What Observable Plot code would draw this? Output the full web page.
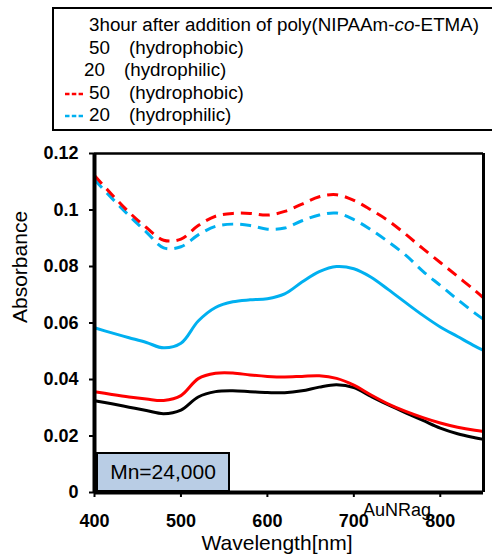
<!DOCTYPE html>
<html><head><meta charset="utf-8">
<script src="https://cdn.jsdelivr.net/npm/d3@7"></script>
<script src="https://cdn.jsdelivr.net/npm/@observablehq/plot@0.6"></script>
<style>
body{margin:0;background:#fff;}
#wrap{position:relative;width:492px;height:556px;overflow:hidden;font-family:"Liberation Sans",Arial,sans-serif;color:#000;}
#wrap > svg{position:absolute;left:0;top:0;}
#legend{position:absolute;left:52px;top:7px;width:470px;height:120px;border:2px solid #000;box-sizing:content-box;}
.lg{position:absolute;font-size:18.8px;line-height:22px;white-space:pre;}
.sw{position:absolute;}
#mn{position:absolute;left:96px;top:452px;width:130px;height:36px;background:#b9cde5;border:2px solid #000;display:flex;align-items:center;justify-content:center;font-size:21px;}
#aunr{position:absolute;left:363px;top:501px;font-size:18px;line-height:18px;}
</style>
</head><body>
<div id="wrap"></div>
<script>
// ---- data ----
const wavelength = [400,420,440,460,480,500,520,540,560,580,600,620,640,660,680,700,720,740,760,780,800,820,840,850];
const absBlack   = [.0325,.0314,.0302,.0290,.0279,.0292,.0338,.0357,.0360,.0357,.0354,.0353,.0360,.0373,.0381,.0371,.0340,.0310,.0282,.0255,.0228,.0208,.0194,.0188];
const absRed     = [.0357,.0347,.0338,.0331,.0326,.0343,.0403,.0422,.0423,.0416,.0411,.0409,.0411,.0413,.0404,.0380,.0345,.0313,.0287,.0265,.0246,.0231,.0220,.0216];
const absBlue    = [.0583,.0565,.0548,.0531,.0512,.0528,.0607,.0655,.0675,.0682,.0686,.0703,.0745,.0782,.0800,.0792,.0762,.0718,.0672,.0627,.0586,.0552,.0518,.0503];
const absRedDash = [.1122,.1055,.0992,.0938,.0893,.0897,.0945,.0978,.0988,.0988,.0982,.0995,.1021,.1047,.1054,.1034,.1000,.0962,.0914,.0863,.0814,.0765,.0715,.0689];
const absBlueDash= [.1107,.1042,.0980,.0922,.0866,.0870,.0912,.0942,.0950,.0945,.0932,.0936,.0962,.0982,.0989,.0966,.0930,.0887,.0840,.0783,.0733,.0683,.0635,.0613];
const xTicks = [400,500,600,700,800];
const yTicks = [0,0.02,0.04,0.06,0.08,0.1,0.12];
const yTickLabels = ["0","0.02","0.04","0.06","0.08","0.1","0.12"];
const legendTitle = ["3hour after addition of poly(NIPAAm-", "co", "-ETMA)"];
const legendNums = ["50","20","50","20"];
const legendTypes = ["(hydrophobic)","(hydrophilic)","(hydrophobic)","(hydrophilic)"];
const boxLabel = "Mn=24,000";
const noteLabel = "AuNRag";
const xTitle = "Wavelength[nm]";
const yTitle = "Absorbance";

const rows = v => wavelength.map((w,i)=>({w, a:v[i]}));
const RED = "#ff0000", BLUE = "#00b0f0";
const lineOpts = (stroke, dash) => ({x:"w", y:"a", stroke, strokeWidth:3, curve:"catmull-rom", strokeDasharray: dash, strokeLinecap:"butt"});

const chart = Plot.plot({
  width:492, height:556,
  marginTop:153, marginBottom:64, marginLeft:94, marginRight:9,
  style:{fontFamily:'"Liberation Sans", Arial, sans-serif', color:"#000", background:"transparent", overflow:"visible"},
  x:{domain:[400,850]},
  y:{domain:[0,0.12]},
  marks:[
    Plot.line(rows(absBlueDash), lineOpts(BLUE, "11,7")),
    Plot.line(rows(absRedDash), lineOpts(RED, "11,7")),
    Plot.line(rows(absBlue), lineOpts(BLUE)),
    Plot.line(rows(absBlack), lineOpts("#000")),
    Plot.line(rows(absRed), lineOpts(RED)),
    Plot.ruleY([0.12], {stroke:"#000", strokeWidth:2.5}),
    Plot.ruleX([850], {stroke:"#000", strokeWidth:3}),
    Plot.ruleX([400], {stroke:"#000", strokeWidth:4}),
    Plot.ruleY([0], {stroke:"#000", strokeWidth:4}),
    Plot.axisY({ticks:yTicks, tickFormat:d=>yTickLabels[yTicks.indexOf(d)], tickSize:5, tickPadding:11, fontSize:18, strokeWidth:2, label:null}),
    Plot.axisX({ticks:xTicks, tickFormat:d=>String(d), tickSize:5, tickPadding:17, fontSize:18, strokeWidth:2, label:null}),
    Plot.text([yTitle], {frameAnchor:"left", rotate:-90, dx:-74, fontSize:21}),
    Plot.text([xTitle], {frameAnchor:"bottom", dy:57, dx:-12, fontSize:21})
  ]
});
const wrap = document.getElementById("wrap");
wrap.appendChild(chart);
// make the tick labels bold, as in the reference
chart.querySelectorAll('g[aria-label*="tick label"] text, g[aria-label*="tick label"]').forEach(el=>{
  el.setAttribute("font-weight","bold");
  el.style.fontWeight = "bold";
});

// legend box
const lg = document.createElement("div"); lg.id = "legend"; wrap.appendChild(lg);
function addSpan(html, left, top){
  const s = document.createElement("div"); s.className="lg"; s.innerHTML = html;
  s.style.left = left+"px"; s.style.top = top+"px"; wrap.appendChild(s); return s;
}
const lineTops = [14, 36.5, 58.5, 81.5, 104];
addSpan(legendTitle[0] + "<i>" + legendTitle[1] + "</i>" + legendTitle[2], 89, lineTops[0]);
const numX = [89, 84, 89, 89], typeX = [129, 124, 129, 129];
legendNums.forEach((n,i)=>{
  addSpan(n, numX[i], lineTops[i+1]);
  addSpan(legendTypes[i], typeX[i], lineTops[i+1]);
});
const NS = "http://www.w3.org/2000/svg";
[[RED, 93.5],[BLUE, 116]].forEach(([c,y])=>{
  const s = document.createElementNS(NS,"svg");
  s.setAttribute("class","sw"); s.setAttribute("width","20"); s.setAttribute("height","6");
  s.style.left="64px"; s.style.top=(y-3)+"px";
  const l = document.createElementNS(NS,"line");
  l.setAttribute("x1","1"); l.setAttribute("x2","19"); l.setAttribute("y1","3"); l.setAttribute("y2","3");
  l.setAttribute("stroke",c); l.setAttribute("stroke-width","2.5"); l.setAttribute("stroke-dasharray","4.5,2.3");
  s.appendChild(l); wrap.appendChild(s);
});
// Mn box and note
const mn = document.createElement("div"); mn.id="mn"; mn.textContent = boxLabel; wrap.appendChild(mn);
const au = document.createElement("div"); au.id="aunr"; au.textContent = noteLabel; wrap.appendChild(au);
</script>
</body></html>
